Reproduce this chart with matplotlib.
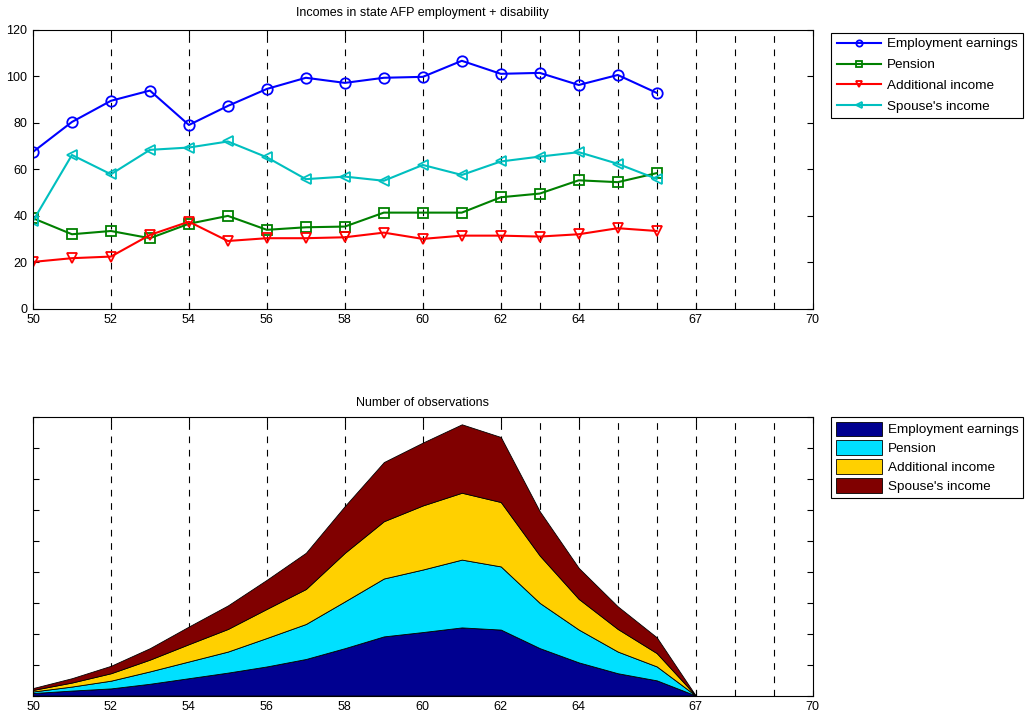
import numpy as np
from matplotlib import pyplot as plt

plt.rcParams['font.family'] = ['Liberation Sans', 'DejaVu Sans']

# ages
ages_top = list(range(50, 67))
ages_bot = list(range(50, 68))

# mean incomes (top panel)
employment = [67.5, 80.4, 89.5, 93.9, 79.1, 87.3, 94.6, 99.4, 97.2, 99.4, 99.8,
              106.7, 101.1, 101.5, 96.3, 100.6, 92.9]
pension = [39.0, 32.1, 33.5, 30.4, 36.6, 40.0, 34.0, 35.1, 35.4, 41.4, 41.4,
           41.4, 48.0, 49.6, 55.3, 54.5, 58.4]
additional = [20.2, 21.8, 22.5, 31.8, 37.5, 29.2, 30.4, 30.4, 30.8, 32.8, 30.1,
              31.5, 31.5, 31.1, 32.1, 34.7, 33.5]
spouse = [37.8, 66.2, 57.9, 68.4, 69.4, 72.0, 65.2, 55.8, 56.9, 55.1, 61.9,
          57.6, 63.4, 65.5, 67.4, 62.4, 55.9]

# number of observations (bottom panel, stacked)
n_employment = [8, 16, 23, 38, 56, 74, 94, 118, 153, 191, 205, 220, 213, 153, 107, 72, 49, 0]
n_pension = [5, 13, 25, 40, 54, 68, 92, 113, 151, 187, 202, 219, 204, 146, 106, 70, 45, 0]
n_additional = [5, 13, 24, 38, 56, 73, 94, 113, 157, 185, 207, 216, 208, 153, 99, 73, 43, 0]
n_spouse = [6, 14, 24, 37, 57, 76, 94, 117, 151, 191, 203, 221, 210, 143, 100, 73, 51, 0]

labels = ['Employment earnings', 'Pension', 'Additional income', "Spouse's income"]
xticks = [50, 52, 54, 56, 58, 60, 62, 64, 67, 70]
vlines = [52, 54, 56, 58, 60, 62, 63, 64, 65, 66, 67, 68, 69]

fig = plt.figure(figsize=(10.3, 7.2), dpi=100)
ax1 = fig.add_axes([0.032, 0.571, 0.757, 0.3875])
ax2 = fig.add_axes([0.032, 0.034, 0.757, 0.387])

def style_axis(ax):
    ax.set_xlim(50, 70)
    ax.set_xticks(xticks)
    ax.tick_params(direction='in', top=True, right=True, labelsize=9, length=4, pad=4)
    for x in vlines:
        ax.axvline(x, color='black', linestyle=(0, (6, 6)), linewidth=0.8, zorder=0)
    for s in ax.spines.values():
        s.set_linewidth(0.8)

# top panel
style_axis(ax1)
ax1.set_ylim(0, 120)
ax1.set_yticks(range(0, 121, 20))
mk = dict(markersize=7.5, markerfacecolor='none', markeredgewidth=1.3, linewidth=1.5)
ax1.plot(ages_top, employment, '-o', color='#0000FF', label=labels[0], **mk)
ax1.plot(ages_top, pension, '-s', color='#008000', label=labels[1], **mk)
ax1.plot(ages_top, additional, '-v', color='#FF0000', label=labels[2], **mk)
ax1.plot(ages_top, spouse, '-<', color='#00BFBF', label=labels[3], **mk)
ax1.set_title('Incomes in state AFP employment + disability', fontsize=9, pad=10)
leg1 = ax1.legend(loc='upper left', bbox_to_anchor=(1.024, 0.99), fontsize=9.7,
                  fancybox=False, edgecolor='black', framealpha=1, markerscale=0.6,
                  handlelength=3.3, handletextpad=0.45, borderaxespad=0,
                  labelspacing=0.62, borderpad=0.4)
leg1.get_frame().set_linewidth(0.8)

# bottom panel
style_axis(ax2)
ax2.set_ylim(0, 900)
ax2.set_yticks(range(0, 901, 100))
ax2.set_yticklabels([])
ax2.stackplot(ages_bot, n_employment, n_pension, n_additional, n_spouse,
              colors=['#000090', '#00E0FF', '#FFD000', '#800000'],
              edgecolor='black', linewidth=0.6, labels=labels, zorder=2)
ax2.set_title('Number of observations', fontsize=9, pad=8)
leg2 = ax2.legend(loc='upper left', bbox_to_anchor=(1.024, 1.0), fontsize=9.7,
                  fancybox=False, edgecolor='black', framealpha=1,
                  handlelength=3.4, handleheight=1.3, handletextpad=0.45,
                  borderaxespad=0, labelspacing=0.3, borderpad=0.35)
leg2.get_frame().set_linewidth(0.8)

fig.savefig('out.png', dpi=100)
